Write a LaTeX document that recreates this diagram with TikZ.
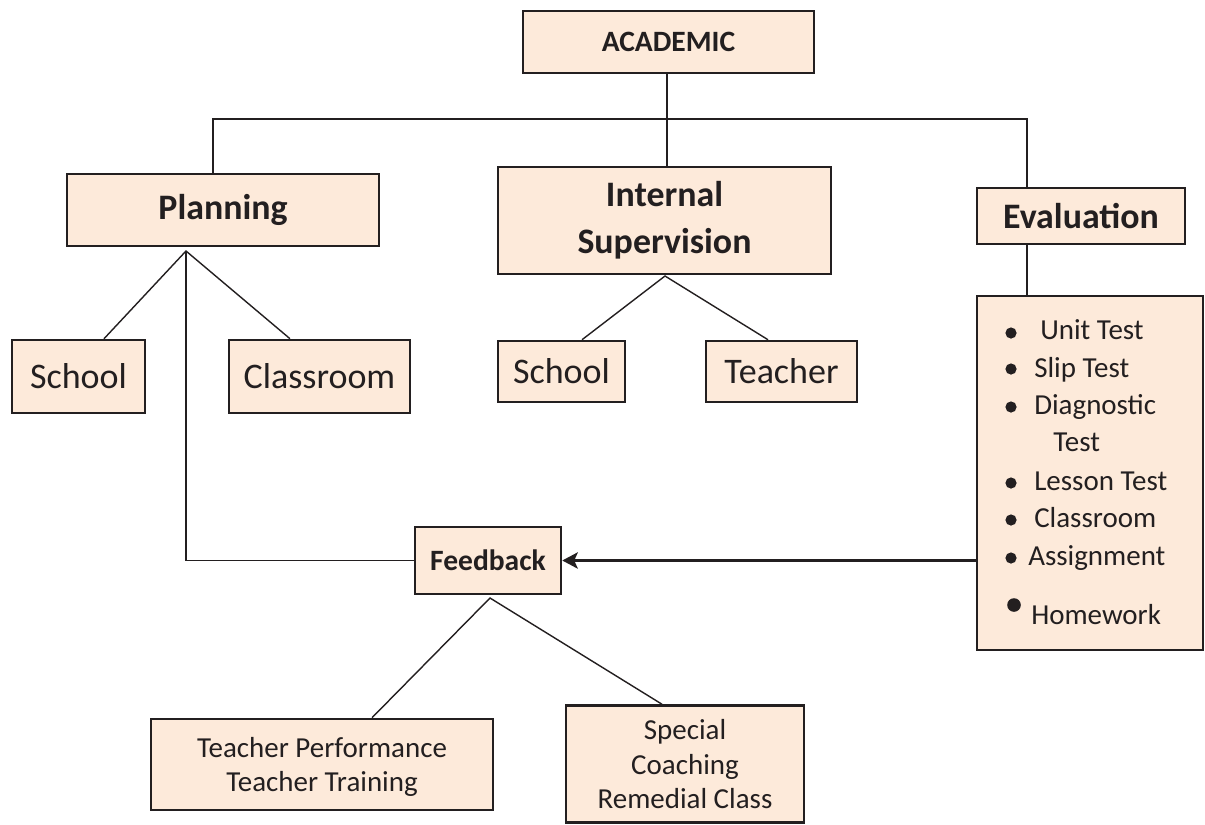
\documentclass[tikz,border=0pt]{standalone}
\usepackage{fontspec}
\setmainfont{Carlito}
\usetikzlibrary{arrows.meta,calc}
\definecolor{boxfill}{HTML}{FDEADA}
\definecolor{ink}{HTML}{231F20}
\begin{document}
\begin{tikzpicture}[x=0.025cm,y=-0.025cm,
 box/.style={draw=ink, line width=1.8pt, fill=boxfill, text=ink, inner sep=0pt, align=center},
 sz/.style 2 args={minimum width=#1*0.025cm, minimum height=#2*0.025cm},
 conn/.style={draw=ink, line width=1pt},
 big/.style={font=\fontsize{25.5pt}{33.4pt}\selectfont\bfseries},
 mid/.style={font=\fontsize{21pt}{24pt}\selectfont\bfseries},
 reg/.style={font=\fontsize{25.6pt}{30pt}\selectfont},
 small/.style={font=\fontsize{20.6pt}{24.4pt}\selectfont},
 item/.style={anchor=base west, inner sep=0pt, text=ink, font=\fontsize{20.6pt}{24pt}\selectfont},
 dot/.style={fill=ink, draw=none}
]
\useasboundingbox (0,0) rectangle (1205,824);

% boxes
\node[box,sz={291}{62},mid] (acad) at (668.5,42) {ACADEMIC};
\node[box,sz={312}{72},big] (plan) at (223,210) {Planning};
\node[box,sz={333}{107},big] (isup) at (664.5,220.5) {Internal\\Supervision};
\node[box,sz={208}{56},big] (eval) at (1081,216) {Evaluation};
\node[box,sz={133}{73},reg] (sch1) at (78.5,376.5) {School};
\node[box,sz={181}{73},reg] (cls) at (319.5,376.5) {Classroom};
\node[box,sz={127}{61},reg] (sch2) at (561.5,371.5) {School};
\node[box,sz={151}{61},reg] (tch) at (781.5,371.5) {Teacher};
\node[box,sz={226}{354}] (list) at (1090,473) {};
\node[box,sz={146}{67},mid] (fb) at (488,560.5) {Feedback};
\node[box,sz={342}{91},small,text depth=-4pt] (tp) at (322,764.5) {Teacher Performance\\Teacher Training};
\node[box,sz={238}{117},small,text depth=-5pt] (sc) at (685,764) {Special\\Coaching\\Remedial Class};

% helper coordinates
\coordinate (x667) at (667,0);
\coordinate (hl) at (213,119);
\coordinate (hr) at (1027,119);
\coordinate (pa) at (186,251);
\coordinate (x104) at (104,0);
\coordinate (x290) at (290,0);
\coordinate (ia) at (665,276);
\coordinate (x582) at (582,0);
\coordinate (x768) at (768,0);
\coordinate (fa) at (490,598);
\coordinate (x372) at (372,0);
\coordinate (x662) at (662,0);

% connectors
\draw[conn] (acad.south -| x667) -- (isup.north -| x667);
\draw[conn] (plan.north -| hl) -- (hl) -- (hr) -- (eval.north -| hr);
\draw[conn] (eval.south -| hr) -- (list.north -| hr);
\draw[conn] (sch1.north -| x104) -- (pa) -- (cls.north -| x290);
\draw[conn] (pa) -- (pa |- fb.west) -- (fb.west);
\draw[conn] (sch2.north -| x582) -- (ia) -- (tch.north -| x768);
\draw[conn] (tp.north -| x372) -- (fa) -- (sc.north -| x662);
\draw[ink, line width=2.1pt, -{Stealth[length=11pt, width=11.5pt, inset=2.5pt]}] (list.west |- fb.east) -- (fb.east);

% list contents
\foreach \yy in {333,369,407,483,520,558} \fill[ink] (1011,\yy) circle[radius=0.14cm];
\fill[ink] (1014,605) circle[radius=0.17cm];
\node[item] (i1) at (1040,339) {Unit Test};
\node[item] (i2) at (1034,377) {Slip Test};
\node[item] (i3) at (1034,414) {Diagnostic};
\node[item] (i3b) at (1053,451) {Test};
\node[item] (i4) at (1034,490) {Lesson Test};
\node[item] (i5) at (1034,527) {Classroom};
\node[item] (i6) at (1028,565) {Assignment};
\node[item] (i7) at (1031,624) {Homework};
\end{tikzpicture}
\end{document}
